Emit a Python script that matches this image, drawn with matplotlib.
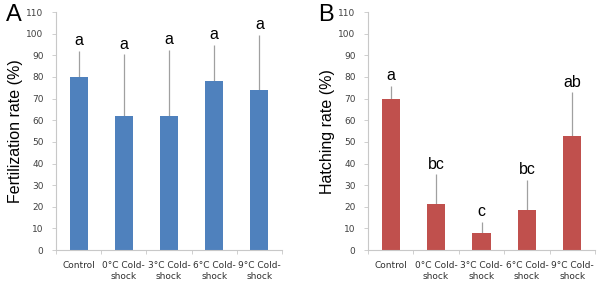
import matplotlib
matplotlib.use('Agg')
import matplotlib.pyplot as plt
import numpy as np

categories = ['Control', '0°C Cold-\nshock', '3°C Cold-\nshock', '6°C Cold-\nshock', '9°C Cold-\nshock']

fert_mean = [80, 62, 62, 78, 74]
fert_err = [12, 28.5, 30.5, 17, 25.5]
fert_letters = ['a', 'a', 'a', 'a', 'a']

hatch_mean = [70, 21.5, 8, 18.5, 52.5]
hatch_err = [6, 13.5, 5, 14, 20.5]
hatch_letters = ['a', 'bc', 'c', 'bc', 'ab']

yticks = list(range(0, 111, 10))

fig = plt.figure(figsize=(6, 2.81), dpi=100)
axA = fig.add_axes([0.0933, 0.110, 0.3767, 0.847])
axB = fig.add_axes([0.6133, 0.110, 0.3784, 0.847])

def draw(ax, means, errs, letters, color, ylabel):
    x = np.arange(len(categories))
    ax.bar(x, means, width=0.4, color=color, zorder=2)
    ax.errorbar(x, means, yerr=[np.zeros(len(errs)), errs], fmt='none',
                ecolor='#a0a0a0', elinewidth=0.9, capsize=0, zorder=1)
    for xi, m, e, lab in zip(x, means, errs, letters):
        ax.text(xi, m + e + 1.2, lab, ha='center', va='bottom',
                fontsize=11.5, family='Liberation Sans')
    ax.set_xlim(-0.5, len(categories) - 0.5)
    ax.set_ylim(0, 110)
    ax.set_yticks(yticks)
    ax.tick_params(axis='y', labelsize=6.5, labelcolor='#404040', length=3,
                   width=0.6, color='#c8c8c8', pad=6)
    ax.set_xticks(x)
    ax.set_xticklabels(categories, fontsize=6.5, color='#303030')
    ax.tick_params(axis='x', length=0, pad=8)
    # category separator ticks
    ax.set_xticks(np.arange(-0.5, len(categories), 1), minor=True)
    ax.tick_params(axis='x', which='minor', length=3, color='#c8c8c8', width=0.6)
    for s in ['top', 'right']:
        ax.spines[s].set_visible(False)
    for s in ['left', 'bottom']:
        ax.spines[s].set_color('#c8c8c8')
        ax.spines[s].set_linewidth(0.8)
    ax.set_ylabel(ylabel, fontsize=11.5, family='Liberation Sans', labelpad=2)

draw(axA, fert_mean, fert_err, fert_letters, '#4f81bd', 'Fertilization rate (%)')
draw(axB, hatch_mean, hatch_err, hatch_letters, '#c0504d', 'Hatching rate (%)')

fig.text(6 / 600, 1 - 15 / 281, 'A', fontsize=17, family='Liberation Sans',
         ha='left', va='center')
fig.text(318 / 600, 1 - 15 / 281, 'B', fontsize=17, family='Liberation Sans',
         ha='left', va='center')

fig.savefig('out.png', dpi=100)
